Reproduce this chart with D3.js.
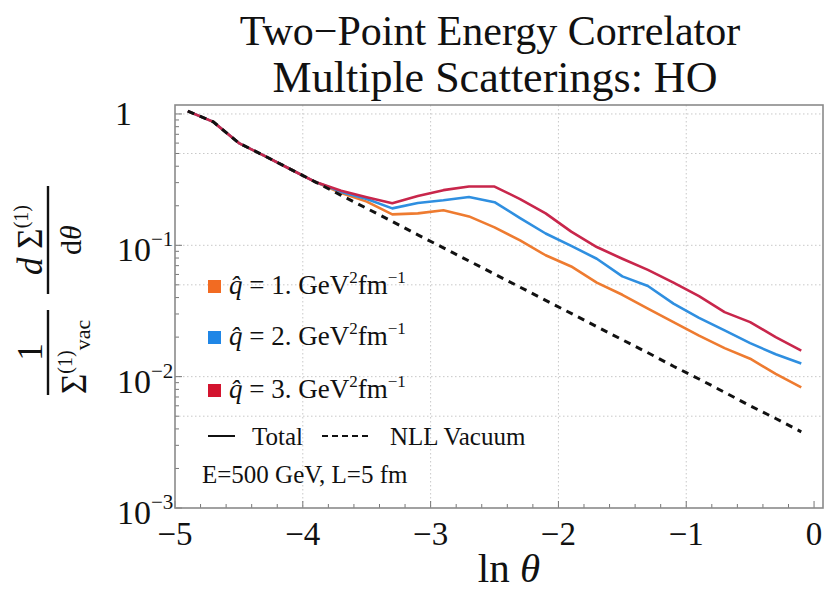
<!doctype html>
<html lang="en">
<head>
  <meta charset="utf-8">
  <title>Two-Point Energy Correlator</title>
  <script type="text/javascript" src="https://cdnjs.cloudflare.com/ajax/libs/d3/7.8.5/d3.min.js"></script>
  <style>
    body { margin: 0; background: #fff; }
    text { font-family: "Liberation Serif", "Times New Roman", serif; fill: #111; }
  </style>
</head>
<body>
<svg width="825" height="593" id="svg"></svg>
<script type="text/javascript">

	// ln(theta) nodes
	var lnTheta = [-4.9, -4.7, -4.5, -4.3, -4.1, -3.9, -3.7, -3.5, -3.3, -3.1, -2.9, -2.7, -2.5,
	               -2.3, -2.1, -1.9, -1.7, -1.5, -1.3, -1.1, -0.9, -0.7, -0.5, -0.3, -0.1];

	// NLL vacuum (dashed)
	var vacuum = [1.05, 0.87, 0.60, 0.48, 0.381, 0.303, 0.240, 0.191, 0.152, 0.120, 0.0957, 0.076, 0.0604,
	              0.048, 0.0381, 0.0303, 0.0240, 0.0191, 0.0152, 0.0120, 0.0096, 0.0076, 0.0060, 0.0048, 0.0038];

	// qhat = 1, 2, 3 GeV^2 fm^-1
	var q1 = [1.05, 0.87, 0.60, 0.48, 0.381, 0.303, 0.250, 0.215, 0.172, 0.175, 0.185, 0.166, 0.137,
	          0.109, 0.084, 0.069, 0.052, 0.042, 0.033, 0.026, 0.0205, 0.0165, 0.0137, 0.0105, 0.0083];
	var q2 = [1.05, 0.87, 0.60, 0.48, 0.381, 0.303, 0.255, 0.225, 0.191, 0.210, 0.220, 0.233, 0.213,
	          0.161, 0.123, 0.099, 0.079, 0.058, 0.049, 0.036, 0.028, 0.0225, 0.018, 0.0148, 0.0126];
	var q3 = [1.05, 0.87, 0.60, 0.48, 0.381, 0.303, 0.260, 0.232, 0.209, 0.237, 0.263, 0.280, 0.280,
	          0.225, 0.175, 0.127, 0.097, 0.079, 0.065, 0.052, 0.041, 0.031, 0.026, 0.020, 0.0158];

	var seriesNames = ['1.', '2.', '3.'];
	var seriesColors = ['#ee7b30', '#2f8fe0', '#c8264b'];
	var legendSwatch = ['#f26b22', '#1f86e6', '#d3142f'];

	var xTicks = [-5, -4, -3, -2, -1, 0];
	var xGrid = [-4, -3, -2, -1];
	var yTicks = [1, 0.1, 0.01, 0.001];
	var yTickExp = ['', '\u22121', '\u22122', '\u22123'];
	var yGrid = [1, 0.5, 0.1, 0.05, 0.01, 0.005];

	var svg = d3.select('#svg');

	// plot frame edges
	var fL = 175, fR = 823, fT = 105, fB = 508;

	var x = d3.scaleLinear()
					.domain([-5, 0.07])
					.range([fL, fR]);

	var y = d3.scaleLog()
					.domain([0.001, 1.17])
					.range([fB, fT]);

	// grid
	svg.selectAll('.vgrid')
		.data(xGrid)
		.enter()
		.append('line')
		.attr('class', 'vgrid')
		.attr('x1', function(d) { return x(d); })
		.attr('x2', function(d) { return x(d); })
		.attr('y1', fT)
		.attr('y2', fB)
		.attr('stroke', '#c8c8c8')
		.attr('stroke-width', 1)
		.attr('stroke-dasharray', '1.5,2.5');

	svg.selectAll('.hgrid')
		.data(yGrid)
		.enter()
		.append('line')
		.attr('class', 'hgrid')
		.attr('x1', fL)
		.attr('x2', fR)
		.attr('y1', function(d) { return y(d); })
		.attr('y2', function(d) { return y(d); })
		.attr('stroke', '#c8c8c8')
		.attr('stroke-width', 1)
		.attr('stroke-dasharray', '1.5,2.5');

	// ticks (inward)
	var xMinor = d3.range(-50, 1, 2).map(function(d) { return d / 10; });
	svg.selectAll('.xminor')
		.data(xMinor)
		.enter()
		.append('line')
		.attr('x1', function(d) { return x(d); })
		.attr('x2', function(d) { return x(d); })
		.attr('y1', fB)
		.attr('y2', function(d) { return Math.abs(d - Math.round(d)) < 1e-6 ? fB - 7 : fB - 4; })
		.attr('stroke', '#777')
		.attr('stroke-width', 1);

	var yMinor = [];
	[0.001, 0.01, 0.1].forEach(function(dec) {
		for (var k = 2; k <= 9; k++) yMinor.push(dec * k);
	});
	svg.selectAll('.yminor')
		.data(yMinor)
		.enter()
		.append('line')
		.attr('x1', fL)
		.attr('x2', fL + 4)
		.attr('y1', function(d) { return y(d); })
		.attr('y2', function(d) { return y(d); })
		.attr('stroke', '#777')
		.attr('stroke-width', 1);

	svg.selectAll('.ymajor')
		.data(yTicks)
		.enter()
		.append('line')
		.attr('x1', fL)
		.attr('x2', fL + 7)
		.attr('y1', function(d) { return y(d); })
		.attr('y2', function(d) { return y(d); })
		.attr('stroke', '#777')
		.attr('stroke-width', 1);

	// frame
	svg.append('rect')
		.attr('x', fL)
		.attr('y', fT)
		.attr('width', fR - fL)
		.attr('height', fB - fT)
		.attr('fill', 'none')
		.attr('stroke', '#8a8a8a')
		.attr('stroke-width', 1.6);

	// tick labels
	svg.selectAll('.xlab')
		.data(xTicks)
		.enter()
		.append('text')
		.attr('x', function(d) { return x(d); })
		.attr('y', 545)
		.attr('text-anchor', 'middle')
		.style('font-size', '33px')
		.text(function(d) { return d < 0 ? '\u2212' + Math.abs(d) : d; });

	yTicks.forEach(function(d, i) {
		if (i === 0) {
			svg.append('text')
				.attr('x', 132)
				.attr('y', y(d) + 11)
				.attr('text-anchor', 'end')
				.style('font-size', '34px')
				.text('1');
		} else {
			var t = svg.append('text')
				.attr('x', 117)
				.attr('y', y(d) + 16)
				.style('font-size', '34px');
			t.append('tspan').text('10');
			t.append('tspan').attr('dy', -15).style('font-size', '21px').text(yTickExp[i]);
		}
	});

	// curves
	var line = d3.line()
		.x(function(d) { return x(d[0]); })
		.y(function(d) { return y(d[1]); });

	[q1, q2, q3].forEach(function(s, i) {
		svg.append('path')
			.datum(d3.zip(lnTheta, s))
			.attr('d', line)
			.attr('fill', 'none')
			.attr('stroke', seriesColors[i])
			.attr('stroke-width', 2.6)
			.attr('stroke-linejoin', 'round');
	});

	svg.append('path')
		.datum(d3.zip(lnTheta, vacuum))
		.attr('d', line)
		.attr('fill', 'none')
		.attr('stroke', '#111')
		.attr('stroke-width', 3)
		.attr('stroke-dasharray', '7,6');

	// legend
	var legendBase = [294, 345, 398];
	seriesNames.forEach(function(n, i) {
		svg.append('rect')
			.attr('x', 208)
			.attr('y', legendBase[i] - 14)
			.attr('width', 13)
			.attr('height', 13)
			.attr('fill', legendSwatch[i]);
		var t = svg.append('text')
			.attr('x', 229)
			.attr('y', legendBase[i])
			.style('font-size', '27px');
		t.append('tspan').style('font-style', 'italic').text('q\u0302');
		t.append('tspan').text(' = ' + n + ' GeV');
		t.append('tspan').attr('dy', -11).style('font-size', '17px').text('2');
		t.append('tspan').attr('dy', 11).text('fm');
		t.append('tspan').attr('dy', -11).style('font-size', '17px').text('\u22121');
	});

	svg.append('line')
		.attr('x1', 208).attr('x2', 235)
		.attr('y1', 436).attr('y2', 436)
		.attr('stroke', '#111').attr('stroke-width', 2);
	svg.append('text')
		.attr('x', 252).attr('y', 445)
		.style('font-size', '25px')
		.text('Total');
	svg.append('line')
		.attr('x1', 322).attr('x2', 369)
		.attr('y1', 436).attr('y2', 436)
		.attr('stroke', '#111').attr('stroke-width', 2)
		.attr('stroke-dasharray', '6,4');
	svg.append('text')
		.attr('x', 390).attr('y', 445)
		.style('font-size', '25px')
		.text('NLL Vacuum');

	svg.append('text')
		.attr('x', 202).attr('y', 483)
		.style('font-size', '25px')
		.text('E=500 GeV, L=5 fm');

	// title
	svg.append('text')
		.attr('x', 490).attr('y', 45)
		.attr('text-anchor', 'middle')
		.style('font-size', '42px')
		.text('Two\u2212Point Energy Correlator');
	svg.append('text')
		.attr('x', 495).attr('y', 92)
		.attr('text-anchor', 'middle')
		.style('font-size', '44px')
		.text('Multiple Scatterings: HO');

	// x label
	var xl = svg.append('text')
		.attr('x', 509).attr('y', 582)
		.attr('text-anchor', 'middle')
		.style('font-size', '41px');
	xl.append('tspan').text('ln ');
	xl.append('tspan').style('font-style', 'italic').text('\u03b8');

	// y label: rotated fractions
	var yl = svg.append('g').attr('transform', 'translate(48,0) rotate(-90)');

	yl.append('line')
		.attr('x1', -395).attr('x2', -310)
		.attr('y1', 0).attr('y2', 0)
		.attr('stroke', '#111').attr('stroke-width', 2.4);
	yl.append('text')
		.attr('x', -352).attr('y', -6)
		.attr('text-anchor', 'middle')
		.style('font-size', '35px')
		.text('1');
	var den = yl.append('text')
		.attr('x', -394).attr('y', 38)
		.style('font-size', '35px');
	den.append('tspan').text('\u03a3');
	den.append('tspan').attr('dy', -14).style('font-size', '20px').text('(1)');
	den.append('tspan').attr('dy', 18).style('font-size', '22px').text('vac');

	yl.append('line')
		.attr('x1', -294).attr('x2', -186)
		.attr('y1', 0).attr('y2', 0)
		.attr('stroke', '#111').attr('stroke-width', 2.4);
	var num = yl.append('text')
		.attr('x', -240).attr('y', -6)
		.attr('text-anchor', 'middle')
		.style('font-size', '35px');
	num.append('tspan').style('font-style', 'italic').text('d');
	num.append('tspan').text(' \u03a3');
	num.append('tspan').attr('dy', -14).style('font-size', '20px').text('(1)');
	var dth = yl.append('text')
		.attr('x', -240).attr('y', 33)
		.attr('text-anchor', 'middle')
		.style('font-size', '30px');
	dth.append('tspan').text('d');
	dth.append('tspan').style('font-style', 'italic').text('\u03b8');

</script>
</body>
</html>
